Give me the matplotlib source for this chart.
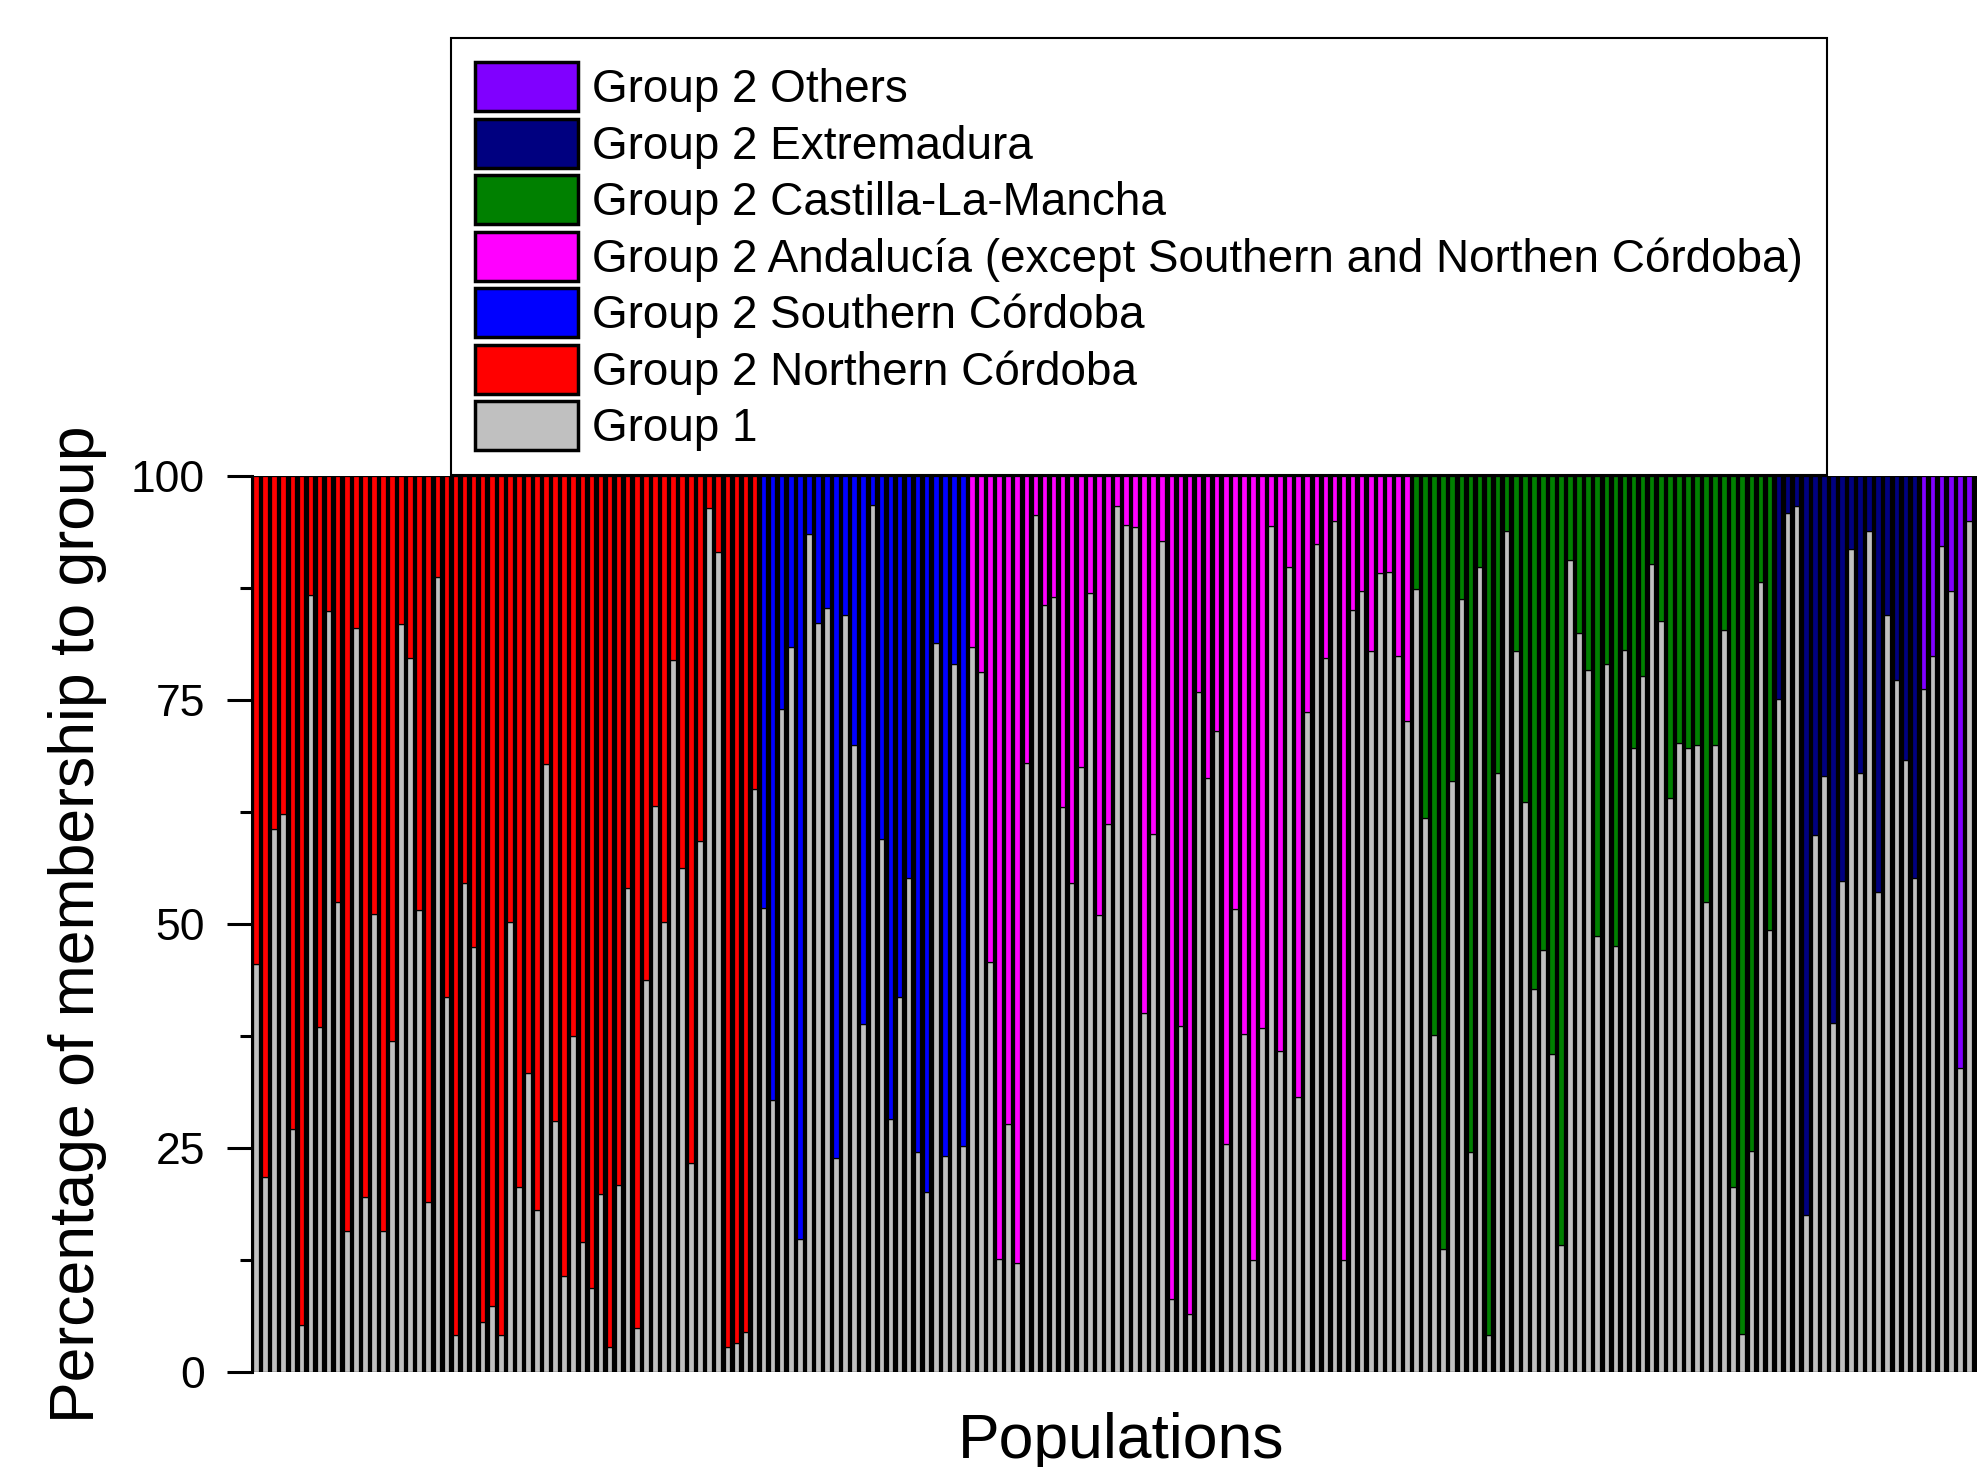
import numpy as np
import matplotlib.pyplot as plt
from matplotlib.ticker import MultipleLocator

plt.rcParams['font.family'] = ['Liberation Sans', 'DejaVu Sans']

# Group 1 membership (%) of each population, grouped by the Group 2 region;
# the remainder of each bar is membership to that Group 2 region
northern_cordoba = [45.5, 21.8, 60.6, 62.3, 27.1, 5.2, 86.7, 38.5, 84.9, 52.5, 15.7, 83.0,
                    19.5, 51.1, 15.7, 36.9, 83.5, 79.7, 51.6, 19.0, 88.7, 41.9, 4.1,
                    54.6, 47.4, 5.6, 7.4, 4.1, 50.2, 20.6, 33.4, 18.1, 67.9, 28.0, 10.7,
                    37.5, 14.5, 9.4, 19.9, 2.8, 20.9, 54.0, 4.9, 43.8, 63.2, 50.2,
                    79.5, 56.3, 23.3, 59.3, 96.4, 91.5, 2.8, 3.2, 4.5, 65.1]
southern_cordoba = [51.8, 30.4, 74.0, 80.9, 14.8, 93.5, 83.6, 85.3, 23.9, 84.5, 70.0, 38.8,
                    96.8, 59.5, 28.2, 41.9, 55.1, 24.6, 20.1, 81.4, 24.1, 79.0, 25.2]
andalucia = [80.9, 78.1, 45.8, 12.6, 27.7, 12.2, 68.0, 95.6, 85.6, 86.5, 63.1, 54.6, 67.5,
             86.9, 51.0, 61.2, 96.6, 94.5, 94.3, 40.1, 60.0, 92.8, 8.2, 38.6, 6.5, 75.9,
             66.3, 71.5, 25.4, 51.7, 37.7, 12.5, 38.4, 94.4, 35.8, 89.8, 30.7, 73.7, 92.4,
             79.7, 95.0, 12.5, 85.0, 87.2, 80.5, 89.2, 89.3, 79.9, 72.7]
castilla = [87.4, 61.8, 37.6, 13.7, 66.0, 86.3, 24.6, 89.8, 4.1, 66.8, 93.9, 80.5, 63.6,
            42.7, 47.1, 35.5, 14.2, 90.6, 82.5, 78.4, 48.7, 79.0, 47.6, 80.6, 69.6, 77.7,
            90.2, 83.8, 64.1, 70.2, 69.6, 70.0, 52.5, 70.0, 82.8, 20.7, 4.2, 24.7, 88.2, 49.3]
extremadura = [75.1, 95.9, 96.7, 17.5, 59.9, 66.5, 39.0, 54.8, 91.9, 66.8, 93.9, 53.6,
               84.5, 77.2, 68.3, 55.1]
others = [76.2, 79.9, 92.2, 87.2, 33.9, 95.0]

region_data = [northern_cordoba, southern_cordoba, andalucia, castilla, extremadura, others]
region_names = ["Group 2 Northern Córdoba",
                "Group 2 Southern Córdoba",
                "Group 2 Andalucía (except Southern and Northen Córdoba)",
                "Group 2 Castilla-La-Mancha",
                "Group 2 Extremadura",
                "Group 2 Others"]
region_colors = ['#ff0000', '#0000ff', '#ff00ff', '#008000', '#000080', '#8000ff']
group1_color = '#c0c0c0'

fig = plt.figure(figsize=(19.77, 14.67), dpi=100)
ax = fig.add_axes([252 / 1977, 1 - 1372 / 1467, 1 - 252 / 1977, (1372 - 476) / 1467])
ax.set_facecolor('black')

bw = 0.62
start = 0
handles = []
g1 = None
for vals, col in zip(region_data, region_colors):
    vals = np.array(vals)
    x = np.arange(start, start + len(vals))
    g1 = ax.bar(x, vals, width=bw, color=group1_color, edgecolor='black', linewidth=0.9)
    b = ax.bar(x, 100 - vals, bottom=vals, width=bw, color=col, edgecolor='black', linewidth=0.9)
    handles.append(b)
    start += len(vals)

ax.set_xlim(-0.45, start - 0.1)
ax.set_ylim(0, 100)
ax.set_xticks([])
ax.set_yticks([0, 25, 50, 75, 100])
ax.yaxis.set_minor_locator(MultipleLocator(12.5))
ax.tick_params(axis='y', which='major', length=18, width=2.2, labelsize=32, pad=16)
ax.tick_params(axis='y', which='minor', length=9, width=2.2)
for s in ['top', 'right', 'bottom']:
    ax.spines[s].set_visible(False)
ax.spines['left'].set_linewidth(2.2)

ax.set_ylabel("Percentage of membership to group", fontsize=45, va='center')
ax.yaxis.set_label_coords(-0.1009, 0.5)
ax.set_xlabel("Populations", fontsize=45)
ax.xaxis.set_label_coords(0.504, -0.045)

leg_handles = handles[::-1] + [g1]
leg_labels = region_names[::-1] + ["Group 1"]
leg = fig.legend(leg_handles, leg_labels, loc='upper left',
                 bbox_to_anchor=(451 / 1977, 1 - 38 / 1467), borderaxespad=0,
                 fontsize=33, handlelength=2.25, handleheight=1.27, handletextpad=0.3,
                 labelspacing=0.143, borderpad=0.53, fancybox=False, edgecolor='black',
                 framealpha=1)
leg.get_frame().set_linewidth(1.5)
for p in leg.get_patches():
    p.set_linewidth(2.5)

fig.savefig('out.png', dpi=100)
